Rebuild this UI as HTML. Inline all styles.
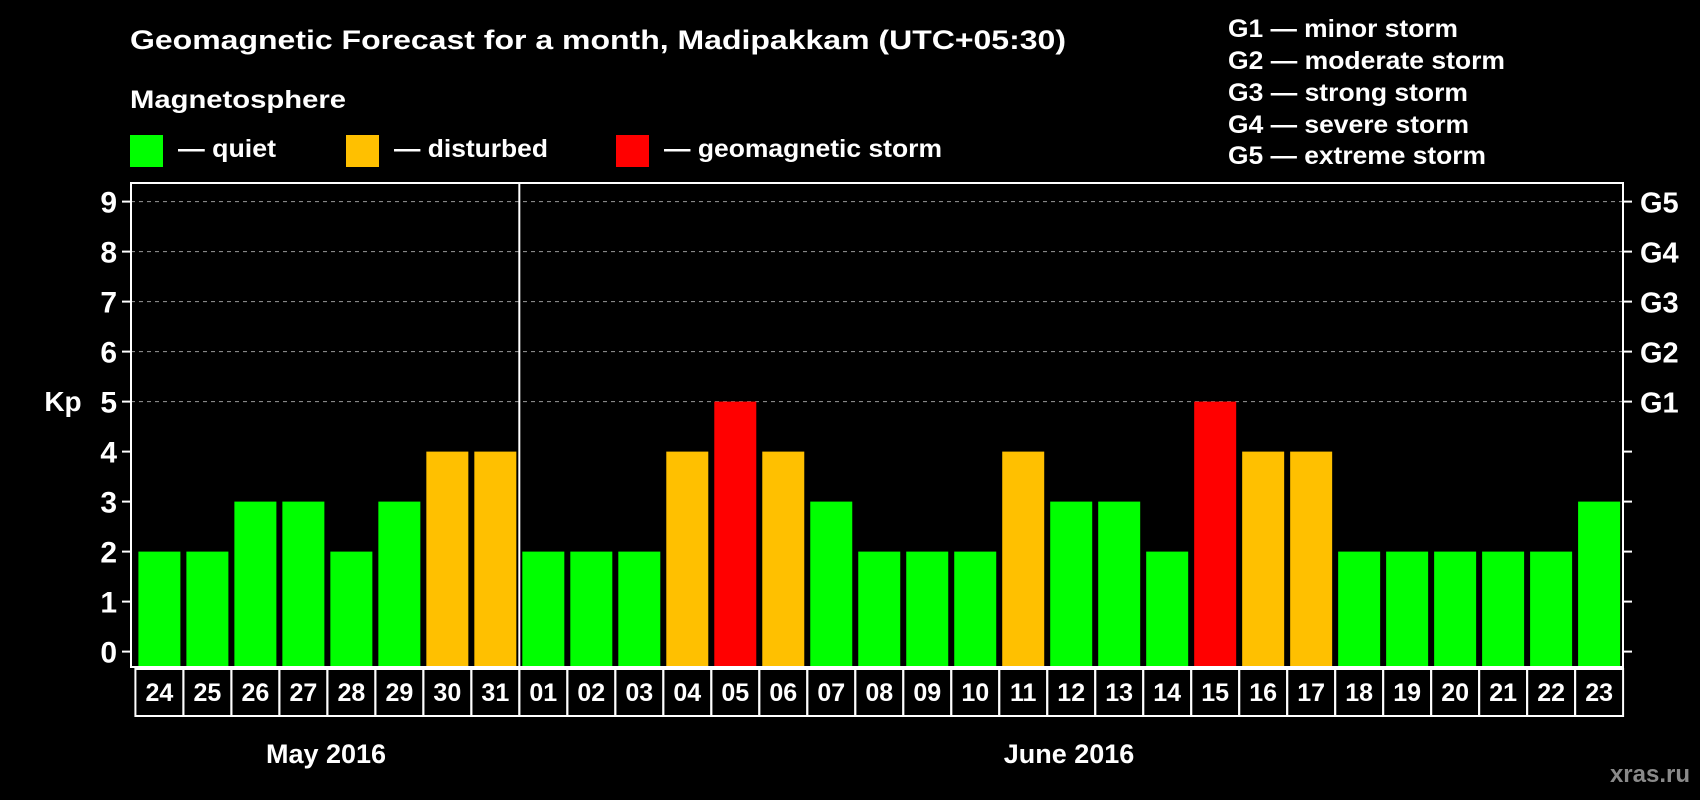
<!DOCTYPE html>
<html><head><meta charset="utf-8"><style>
html,body{margin:0;padding:0;background:#000;}
svg{display:block;font-family:"Liberation Sans",Arial,sans-serif;font-weight:bold;}
</style></head><body>
<svg id="chart" width="1700" height="800" viewBox="0 0 1700 800" xmlns="http://www.w3.org/2000/svg">
<rect width="1700" height="800" fill="#000"/>
<text x="130" y="49" fill="#fff" font-size="27" textLength="936" lengthAdjust="spacingAndGlyphs">Geomagnetic Forecast for a month, Madipakkam (UTC+05:30)</text>
<text x="130" y="108" fill="#fff" font-size="25" textLength="216" lengthAdjust="spacingAndGlyphs">Magnetosphere</text>
<g>
<rect x="130" y="135" width="33" height="32" fill="#00ff00"/>
<text x="178" y="157" fill="#fff" font-size="25" textLength="98" lengthAdjust="spacingAndGlyphs">— quiet</text></g>
<g>
<rect x="346" y="135" width="33" height="32" fill="#ffc000"/>
<text x="394" y="157" fill="#fff" font-size="25" textLength="154" lengthAdjust="spacingAndGlyphs">— disturbed</text></g>
<g>
<rect x="616" y="135" width="33" height="32" fill="#ff0000"/>
<text x="664" y="157" fill="#fff" font-size="25" textLength="278" lengthAdjust="spacingAndGlyphs">— geomagnetic storm</text></g>
<g fill="#fff" font-size="25">
<text x="1228" y="37" textLength="230" lengthAdjust="spacingAndGlyphs">G1 — minor storm</text>
<text x="1228" y="69" textLength="277" lengthAdjust="spacingAndGlyphs">G2 — moderate storm</text>
<text x="1228" y="101" textLength="240" lengthAdjust="spacingAndGlyphs">G3 — strong storm</text>
<text x="1228" y="133" textLength="241" lengthAdjust="spacingAndGlyphs">G4 — severe storm</text>
<text x="1228" y="164" textLength="258" lengthAdjust="spacingAndGlyphs">G5 — extreme storm</text>
</g>
<text x="63" y="411" fill="#fff" font-size="28" text-anchor="middle">Kp</text>
<g id="grid"></g>
<g id="bars"></g>
<g id="axes"></g>
<text x="326" y="763" fill="#fff" font-size="27" text-anchor="middle">May 2016</text>
<text x="1069" y="763" fill="#fff" font-size="27" text-anchor="middle">June 2016</text>
<text x="1690" y="782" fill="#8a8a8a" font-size="24" text-anchor="end">xras.ru</text>
</svg>
<script>
const days = ["24","25","26","27","28","29","30","31","01","02","03","04","05","06","07","08","09","10","11","12","13","14","15","16","17","18","19","20","21","22","23"];
const kpValues = [2,2,3,3,2,3,4,4,2,2,2,4,5,4,3,2,2,2,4,3,3,2,5,4,4,2,2,2,2,2,3];
const yTicks = [0,1,2,3,4,5,6,7,8,9];
const stormLabels = ["G1","G2","G3","G4","G5"];
const stormLevels = [5,6,7,8,9];
const monthBreakIndex = 8;

const NS = "http://www.w3.org/2000/svg";
const L = 131, R = 1623, T = 183, B = 667;
const y0 = 651.6, unit = 50;
const firstCenter = 159.4, pitch = 47.99, barW = 42;
const y = v => y0 - v * unit;
const xc = i => firstCenter + i * pitch;
function mk(tag, attrs, parent) {
  const e = document.createElementNS(NS, tag);
  for (const k in attrs) e.setAttribute(k, attrs[k]);
  parent.appendChild(e); return e;
}
const grid = document.getElementById('grid'), bars = document.getElementById('bars'), axes = document.getElementById('axes');
stormLevels.forEach(v => {
  const l = mk('line', {x1: L, x2: R, y1: y(v), y2: y(v), stroke: '#999', 'stroke-width': 1, 'stroke-dasharray': '4,4'}, grid);
  
  
});
kpValues.forEach((v, i) => {
  const col = v >= 5 ? '#ff0000' : (v >= 4 ? '#ffc000' : '#00ff00');
  const r = mk('rect', {x: xc(i) - barW / 2, y: y(v), width: barW, height: B - y(v), fill: col}, bars);
  
  
});
const frame = mk('rect', {x: L, y: T, width: R - L, height: B - T, fill: 'none', stroke: '#fff', 'stroke-width': 2}, axes);


const divX = xc(monthBreakIndex) - pitch / 2;
const div = mk('line', {x1: divX, x2: divX, y1: T, y2: B, stroke: '#fff', 'stroke-width': 2}, axes);


yTicks.forEach(v => {
  mk('line', {x1: L - 9, x2: L, y1: y(v), y2: y(v), stroke: '#fff', 'stroke-width': 2}, axes);
  mk('line', {x1: R, x2: R + 9, y1: y(v), y2: y(v), stroke: '#fff', 'stroke-width': 2}, axes);
  const t = mk('text', {x: 117, y: y(v) + 11, fill: '#fff', 'font-size': 30, 'text-anchor': 'end'}, axes);
  t.textContent = v;
  
  
});
stormLabels.forEach((s, i) => {
  const t = mk('text', {x: 1640, y: y(stormLevels[i]) + 11, fill: '#fff', 'font-size': 29}, axes);
  t.textContent = s;
  
  
});
days.forEach((d, i) => {
  const c = mk('rect', {x: xc(i) - pitch / 2, y: 669, width: pitch, height: 47, fill: 'none', stroke: '#fff', 'stroke-width': 2}, axes);
  
  
  const t = mk('text', {x: xc(i), y: 701, fill: '#fff', 'font-size': 25, 'text-anchor': 'middle'}, axes);
  t.textContent = d;
  
  
});
</script>
</body></html>
